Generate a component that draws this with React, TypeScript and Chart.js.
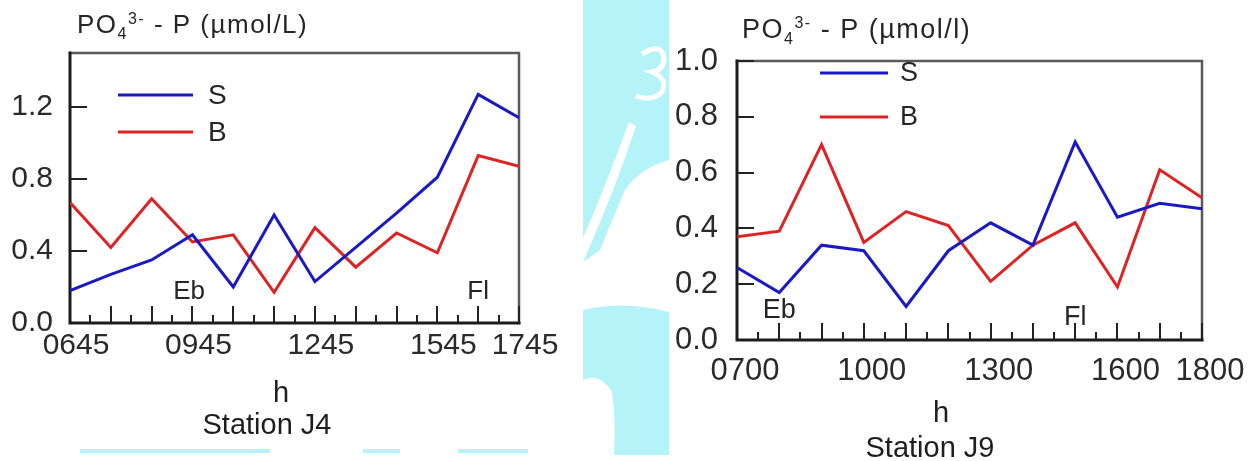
import React, { useEffect, useRef } from 'react';
import { Chart, registerables } from 'chart.js';

Chart.register(...registerables);

const FONT = '"Liberation Sans", Arial, Helvetica, sans-serif';
const BLUE = '#1a1ac4';
const RED = '#dc2424';
const INK = '#262626';

// Station J4 – sampling times (hhmm) and phosphate, µmol/L
const j4Times = ['0645', '0745', '0845', '0945', '1045', '1145', '1245', '1345', '1445', '1545', '1645', '1745'];
const j4Surface = [0.18, 0.27, 0.35, 0.49, 0.2, 0.6, 0.23, 0.42, 0.61, 0.81, 1.27, 1.14];
const j4Bottom = [0.67, 0.42, 0.69, 0.45, 0.49, 0.17, 0.53, 0.31, 0.5, 0.39, 0.93, 0.87];
const j4XTicks = ['0645', '0945', '1245', '1545', '1745'];
const j4YTicks = [0, 0.4, 0.8, 1.2];

// Station J9 – sampling times (hhmm) and phosphate, µmol/l
const j9Times = ['0700', '0800', '0900', '1000', '1100', '1200', '1300', '1400', '1500', '1600', '1700', '1800'];
const j9Surface = [0.26, 0.17, 0.34, 0.32, 0.12, 0.32, 0.42, 0.34, 0.71, 0.44, 0.49, 0.47];
const j9Bottom = [0.37, 0.39, 0.7, 0.35, 0.46, 0.41, 0.21, 0.34, 0.42, 0.19, 0.61, 0.51];
const j9XTicks = ['0700', '1000', '1300', '1600', '1800'];
const j9YTicks = [0, 0.2, 0.4, 0.6, 0.8, 1.0];

const toMin = (t: string) => parseInt(t.slice(0, 2), 10) * 60 + parseInt(t.slice(2), 10);

type PanelProps = {
  left: number;
  width: number;
  height: number;
  times: string[];
  surface: number[];
  bottom: number[];
  xTicks: string[];
  yTicks: number[];
  yMax: number;
  yStep: number;
  yMinorLen: number;
  unit: string;
  station: string;
  layout: {
    yAxisWidth: number;
    padTop: number;
    padRight: number;
    xAxisHeight: number;
    tickSize: number;
    yPad: number;
    xPad: number;
    labelOffset: number;
    titleX: number;
    titleY: number;
    titleSize: number;
    titleSpacing: number;
    legX1: number;
    legX2: number;
    legYS: number;
    legYB: number;
    legTextX: number;
    legSize: number;
    ebAt: [string, number];
    flAt: [string, number];
    tideSize: number;
    hX: number;
    hY: number;
    stX: number;
    stY: number;
    labelSize: number;
  };
};

function drawTitle(ctx: CanvasRenderingContext2D, x: number, y: number, size: number, spacing: number, unit: string) {
  const c = ctx as any;
  ctx.textAlign = 'left';
  ctx.textBaseline = 'alphabetic';
  c.letterSpacing = `${spacing}px`;
  ctx.font = `${size}px ${FONT}`;
  ctx.fillText('PO', x, y);
  x += ctx.measureText('PO').width;
  const small = Math.round(size * 0.6);
  ctx.font = `${small}px ${FONT}`;
  ctx.fillText('4', x, y + size * 0.24);
  const w4 = ctx.measureText('4').width;
  ctx.fillText('3-', x + w4, y - size * 0.36);
  x += w4 + ctx.measureText('3-').width;
  ctx.font = `${size}px ${FONT}`;
  ctx.fillText(` - P (${unit})`, x, y);
  c.letterSpacing = '0px';
}

function Panel(props: PanelProps) {
  const ref = useRef<HTMLCanvasElement>(null);

  useEffect(() => {
    const canvas = ref.current;
    if (!canvas) return;
    const p = props;
    const L = p.layout;
    const xMin = toMin(p.times[0]);
    const xMax = toMin(p.times[p.times.length - 1]);

    const decor = {
      id: 'panelDecor',
      beforeDatasetsDraw(chart: any) {
        const ctx: CanvasRenderingContext2D = chart.ctx;
        const a = chart.chartArea;
        const xs = chart.scales.x;
        const ys = chart.scales.y;
        ctx.save();
        // frame: dark axes on left/bottom, grey on top/right
        ctx.lineCap = 'square';
        ctx.strokeStyle = '#5a5a5a';
        ctx.lineWidth = 2.5;
        ctx.beginPath();
        ctx.moveTo(a.left, a.top);
        ctx.lineTo(a.right, a.top);
        ctx.lineTo(a.right, a.bottom);
        ctx.stroke();
        ctx.strokeStyle = '#1c1c1c';
        ctx.lineWidth = 3;
        ctx.beginPath();
        ctx.moveTo(a.left, a.top);
        ctx.lineTo(a.left, a.bottom);
        ctx.lineTo(a.right, a.bottom);
        ctx.stroke();

        // inward tick marks
        ctx.lineCap = 'butt';
        ctx.lineWidth = 2;
        ctx.strokeStyle = '#222';
        ctx.beginPath();
        const nY = Math.round(p.yMax / p.yStep);
        for (let i = 1; i <= nY; i++) {
          const v = i * p.yStep;
          const major = p.yTicks.some((t) => Math.abs(t - v) < 1e-6);
          const len = major ? 17 : L.yMinorLen;
          const y = Math.round(ys.getPixelForValue(v));
          ctx.moveTo(a.left, y);
          ctx.lineTo(a.left + len, y);
        }
        for (let m = xMin + 30; m <= xMax; m += 30) {
          const major = (m - xMin) % 60 === 0;
          const len = major ? 17 : 8;
          const x = Math.round(xs.getPixelForValue(m));
          ctx.moveTo(x, a.bottom);
          ctx.lineTo(x, a.bottom - len);
        }
        ctx.stroke();
        ctx.restore();
      },
      afterDatasetsDraw(chart: any) {
        const ctx: CanvasRenderingContext2D = chart.ctx;
        const xs = chart.scales.x;
        const ys = chart.scales.y;
        ctx.save();
        ctx.fillStyle = INK;
        drawTitle(ctx, L.titleX, L.titleY, L.titleSize, L.titleSpacing, p.unit);

        // series key
        ctx.lineWidth = 3;
        ctx.strokeStyle = BLUE;
        ctx.beginPath();
        ctx.moveTo(L.legX1, L.legYS);
        ctx.lineTo(L.legX2, L.legYS);
        ctx.stroke();
        ctx.strokeStyle = RED;
        ctx.beginPath();
        ctx.moveTo(L.legX1, L.legYB);
        ctx.lineTo(L.legX2, L.legYB);
        ctx.stroke();
        ctx.font = `${L.legSize}px ${FONT}`;
        ctx.textAlign = 'left';
        ctx.textBaseline = 'middle';
        ctx.fillText('S', L.legTextX, L.legYS + 1);
        ctx.fillText('B', L.legTextX, L.legYB + 1);

        // tide phase marks
        ctx.font = `${L.tideSize}px ${FONT}`;
        ctx.textAlign = 'center';
        ctx.textBaseline = 'alphabetic';
        ctx.fillText('Eb', xs.getPixelForValue(toMin(L.ebAt[0])), ys.getPixelForValue(L.ebAt[1]));
        ctx.fillText('Fl', xs.getPixelForValue(toMin(L.flAt[0])), ys.getPixelForValue(L.flAt[1]));

        // axis caption and station name
        ctx.font = `${L.labelSize}px ${FONT}`;
        ctx.fillStyle = '#1e1e1e';
        ctx.fillText('h', L.hX, L.hY);
        ctx.fillText(p.station, L.stX, L.stY);
        ctx.restore();
      },
    };

    const toPts = (vals: number[]) => p.times.map((t, i) => ({ x: toMin(t), y: vals[i] }));
    const tickLabel = (v: number) => {
      const hit = p.xTicks.find((t) => toMin(t) === v);
      return hit ?? '';
    };

    const chart = new Chart(canvas, {
      type: 'line',
      data: {
        datasets: [
          { label: 'S', data: toPts(p.surface), borderColor: BLUE, borderWidth: 3, pointRadius: 0, tension: 0, fill: false },
          { label: 'B', data: toPts(p.bottom), borderColor: RED, borderWidth: 3, pointRadius: 0, tension: 0, fill: false },
        ],
      },
      options: {
        responsive: false,
        animation: false,
        events: [],
        layout: { padding: { left: 0, right: L.padRight, top: L.padTop, bottom: 0 } },
        plugins: { legend: { display: false }, title: { display: false }, tooltip: { enabled: false } },
        scales: {
          x: {
            type: 'linear',
            min: xMin,
            max: xMax,
            grid: { display: false, drawTicks: false },
            border: { display: false },
            afterBuildTicks: (s: any) => {
              s.ticks = p.xTicks.map((t) => ({ value: toMin(t) }));
            },
            afterFit: (s: any) => {
              s.height = L.xAxisHeight;
            },
            ticks: {
              callback: (v: any) => tickLabel(Number(v)),
              font: { family: FONT, size: L.tickSize },
              color: '#2a2a2a',
              padding: L.xPad,
              maxRotation: 0,
              minRotation: 0,
              autoSkip: false,
              labelOffset: L.labelOffset,
            },
          },
          y: {
            type: 'linear',
            min: 0,
            max: p.yMax,
            grid: { display: false, drawTicks: false },
            border: { display: false },
            afterBuildTicks: (s: any) => {
              s.ticks = p.yTicks.map((v) => ({ value: v }));
            },
            afterFit: (s: any) => {
              s.width = L.yAxisWidth;
            },
            ticks: {
              callback: (v: any) => Number(v).toFixed(1),
              font: { family: FONT, size: L.tickSize },
              color: '#2a2a2a',
              padding: L.yPad,
              autoSkip: false,
            },
          },
        },
      },
      plugins: [decor],
    } as any);

    return () => chart.destroy();
  }, []);

  return (
    <canvas
      ref={ref}
      width={props.width}
      height={props.height}
      style={{ position: 'absolute', left: props.left, top: 0, width: props.width, height: props.height }}
    />
  );
}

function Backdrop() {
  const cyan = '#b4f3f8';
  return (
    <svg width={1258} height={461} style={{ position: 'absolute', left: 0, top: 0 }}>
      <rect x={0} y={0} width={1258} height={461} fill="#ffffff" />
      <rect x={583} y={0} width={86} height={455} fill={cyan} />
      {/* pale emblem shapes in the band */}
      <path d="M 642 54 Q 662 42 664 58 Q 664 70 652 72 Q 668 78 662 92 Q 652 102 636 96" stroke="#ffffff" strokeWidth={5} fill="none" />
      <path d="M 629 122 Q 606 185 583 238 L 583 262 Q 615 190 636 126 Z" fill="#ffffff" />
      <path d="M 669 160 Q 640 168 625 190 Q 610 225 600 250 L 583 262 L 583 310 Q 625 300 669 312 Z" fill="#ffffff" />
      <path d="M 583 380 Q 600 372 612 392 Q 616 420 614 455 L 583 455 Z" fill="#ffffff" />
      <rect x={80} y={449} width={190} height={4} fill={cyan} />
      <rect x={363} y={449} width={37} height={4} fill={cyan} />
      <rect x={458} y={449} width={70} height={4} fill={cyan} />
    </svg>
  );
}

export default function App() {
  return (
    <div style={{ position: 'absolute', left: 0, top: 0, width: 1258, height: 461, overflow: 'hidden', background: '#fff' }}>
      <Backdrop />
      <Panel
        left={0}
        width={560}
        height={461}
        times={j4Times}
        surface={j4Surface}
        bottom={j4Bottom}
        xTicks={j4XTicks}
        yTicks={j4YTicks}
        yMax={1.5}
        yStep={0.2}
        yMinorLen={17}
        unit="µmol/L"
        station="Station J4"
        layout={{
          yAxisWidth: 70,
          padTop: 53,
          padRight: 41,
          xAxisHeight: 138,
          tickSize: 30,
          yPad: 17,
          xPad: 5,
          labelOffset: 6,
          titleX: 77,
          titleY: 33,
          titleSize: 26,
          titleSpacing: 1.5,
          legX1: 118,
          legX2: 193,
          legYS: 95,
          legYB: 132,
          legTextX: 208,
          legSize: 28,
          ebAt: ['0940', 0.135],
          flAt: ['1645', 0.135],
          tideSize: 26,
          hX: 281,
          hY: 402,
          stX: 267,
          stY: 434,
          labelSize: 29,
        }}
      />
      <Panel
        left={560}
        width={698}
        height={461}
        times={j9Times}
        surface={j9Surface}
        bottom={j9Bottom}
        xTicks={j9XTicks}
        yTicks={j9YTicks}
        yMax={1.0}
        yStep={0.1}
        yMinorLen={8}
        unit="µmol/l"
        station="Station J9"
        layout={{
          yAxisWidth: 177,
          padTop: 61,
          padRight: 56,
          xAxisHeight: 121,
          tickSize: 31,
          yPad: 19,
          xPad: 13,
          labelOffset: 8,
          titleX: 182,
          titleY: 38,
          titleSize: 27,
          titleSpacing: 1.5,
          legX1: 260,
          legX2: 328,
          legYS: 73,
          legYB: 117,
          legTextX: 340,
          legSize: 27,
          ebAt: ['0800', 0.08],
          flAt: ['1500', 0.055],
          tideSize: 27,
          hX: 381,
          hY: 422,
          stX: 370,
          stY: 457,
          labelSize: 29,
        }}
      />
    </div>
  );
}
